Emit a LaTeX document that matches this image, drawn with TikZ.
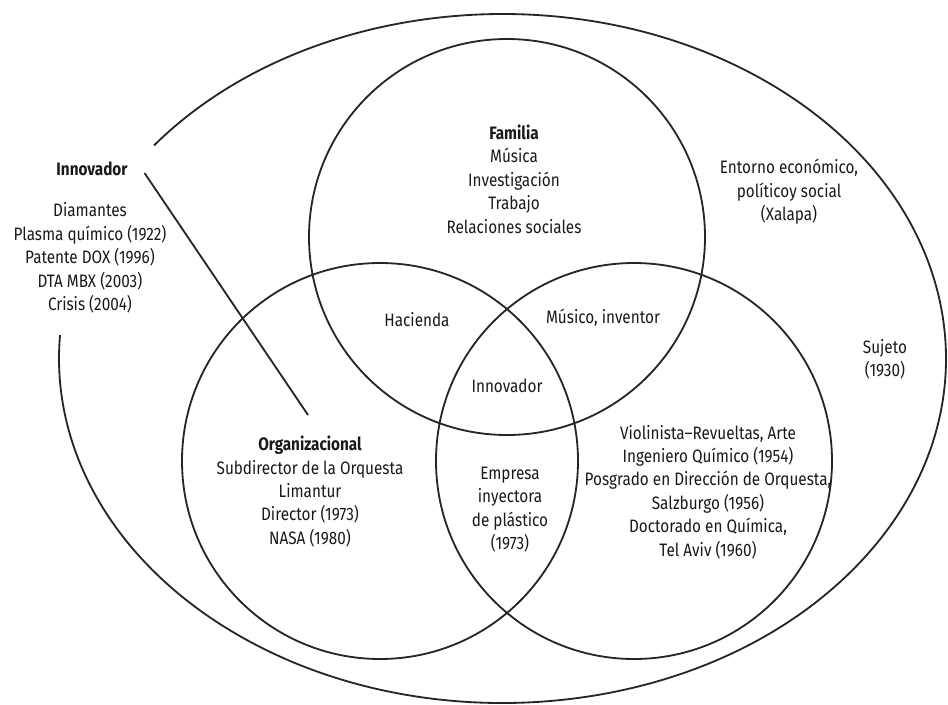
\documentclass[tikz,border=0pt]{standalone}
\usepackage{fontspec}
\usepackage{tikz}
\usepackage{xcolor}
\newfontfamily\vennfont[FakeStretch=0.85]{Fira Sans}

\begin{document}
\begin{tikzpicture}[x=1cm,y=1cm,
  every node/.style={font=\vennfont\fontsize{12.8}{16.7}\selectfont,align=center,text=black!90},
  ring/.style={draw=black!85,line width=1.3pt}]
\useasboundingbox (0,0) rectangle (23.7,-17.6);
% outer ellipse, open on the left
\draw[ring] ([shift={(141.8:11.0875 and 8.6125)}]12.5625,-8.9625)
  arc[start angle=141.8,end angle=-183.9,x radius=11.0875,y radius=8.6125];
% the three circles
\draw[ring] (12.675,-5.925) circle (4.95);
\draw[ring] (9.5,-11.525) circle (4.95);
\draw[ring] (15.85,-11.525) circle (4.95);
% labels
\node (innovtitle) at (2.3,-4.225) {\textbf{Innovador}};
\node (innovlist) at (2.25,-6.45) {Diamantes\\Plasma químico (1922)\\Patente DOX (1996)\\DTA MBX (2003)\\Crisis (2004)};
\node (familia) at (12.85,-4.475) {\textbf{Familia}\\Música\\Investigación\\Trabajo\\Relaciones sociales};
\node (entorno) at (19.725,-4.8) {Entorno económico,\\políticoy social\\(Xalapa)};
\node (sujeto) at (22.125,-8.9875) {Sujeto\\(1930)};
\node (hacienda) at (10.425,-8.0) {Hacienda};
\node (musico) at (15.075,-7.95) {Músico, inventor};
\node (centro) at (12.675,-9.65) {Innovador};
\node (organiz) at (7.75,-12.2875) {\textbf{Organizacional}\\Subdirector de la Orquesta\\Limantur\\Director (1973)\\NASA (1980)};
\node (empresa) at (12.75,-12.7375) {Empresa\\inyectora\\de plástico\\(1973)};
\node (violin) at (17.7,-12.3) {Violinista–Revueltas, Arte\\Ingeniero Químico (1954)\\Posgrado en Dirección de Orquesta,\\Salzburgo (1956)\\Doctorado en Química,\\Tel Aviv (1960)};
% pointer line
\coordinate (orgtip) at (7.7,-10.375);
\draw[ring] ([shift={(0.3,-0.1)}]innovtitle.east) -- (orgtip);
\end{tikzpicture}
\end{document}
